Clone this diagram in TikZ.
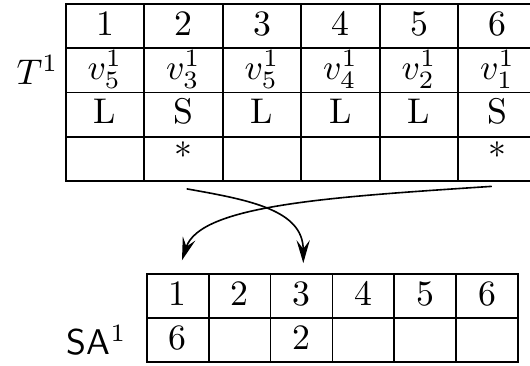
\documentclass[tikz,border=0pt]{standalone}
\usetikzlibrary{positioning,arrows.meta}
\tikzset{tcell/.style={draw, line width=0.5pt, minimum width=21.98pt, minimum height=12.38pt, inner sep=0pt, text height=6.5pt, text depth=1.24pt},
         scell/.style={tcell, minimum width=17.34pt},
         tag/.style={inner sep=0pt},
         jump/.style={line width=0.45pt, -{Stealth[length=6.4pt,width=3.7pt,inset=2.4pt]}}}

\begin{document}
\begin{tikzpicture}[x=0.28pt,y=-0.28pt]
  \useasboundingbox (0,0) rectangle (530,365);

  \node[tcell] (t11) at (104.95, 26.1) {1};
  \node[tcell] (t12) at (183.45, 26.1) {2};
  \node[tcell] (t13) at (261.95, 26.1) {3};
  \node[tcell] (t14) at (340.45, 26.1) {4};
  \node[tcell] (t15) at (418.95, 26.1) {5};
  \node[tcell] (t16) at (497.45, 26.1) {6};
  \node[tcell] (t21) at (104.95, 70.3) {$v_5^1$};
  \node[tcell] (t22) at (183.45, 70.3) {$v_3^1$};
  \node[tcell] (t23) at (261.95, 70.3) {$v_5^1$};
  \node[tcell] (t24) at (340.45, 70.3) {$v_4^1$};
  \node[tcell] (t25) at (418.95, 70.3) {$v_2^1$};
  \node[tcell] (t26) at (497.45, 70.3) {$v_1^1$};
  \node[tcell] (t31) at (104.95,114.5) {L};
  \node[tcell] (t32) at (183.45,114.5) {S};
  \node[tcell] (t33) at (261.95,114.5) {L};
  \node[tcell] (t34) at (340.45,114.5) {L};
  \node[tcell] (t35) at (418.95,114.5) {L};
  \node[tcell] (t36) at (497.45,114.5) {S};
  \node[tcell] (t41) at (104.95,158.7) {};
  \node[tcell] (t42) at (183.45,158.7) {*};
  \node[tcell] (t43) at (261.95,158.7) {};
  \node[tcell] (t44) at (340.45,158.7) {};
  \node[tcell] (t45) at (418.95,158.7) {};
  \node[tcell] (t46) at (497.45,158.7) {*};

  \node[scell] (s11) at (177.7,296.1) {1};
  \node[scell] (s12) at (239.6,296.1) {2};
  \node[scell] (s13) at (301.5,296.1) {3};
  \node[scell] (s14) at (363.4,296.1) {4};
  \node[scell] (s15) at (425.4,296.1) {5};
  \node[scell] (s16) at (487.3,296.1) {6};
  \node[scell] (s21) at (177.7,340.0) {6};
  \node[scell] (s22) at (239.6,340.0) {};
  \node[scell] (s23) at (301.5,340.0) {2};
  \node[scell] (s24) at (363.4,340.0) {};
  \node[scell] (s25) at (425.4,340.0) {};
  \node[scell] (s26) at (487.3,340.0) {};

  \node[tag, left=1.6pt of t21] (tname) {$T^1$};
  \node[tag, left=5.2pt of s21] (sname) {\textsf{SA}$^1$};

  \draw[jump]
   ([xshift=0.9pt,yshift=-2pt]t42.south) .. controls (250,200) and (303,210) ..
   ([xshift=0.5pt,yshift=2.8pt]s13.north);
  \draw[jump]
   ([xshift=-1.6pt,yshift=-1.3pt]t46.south) .. controls (330,197) and (200,205) ..
   ([xshift=1.2pt,yshift=3.6pt]s11.north);
\end{tikzpicture}
\end{document}
